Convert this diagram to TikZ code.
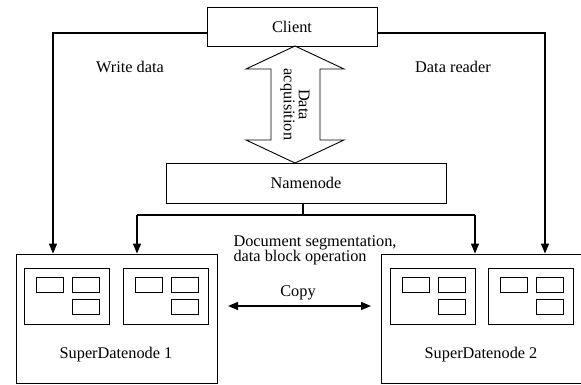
\documentclass[tikz,border=0pt]{standalone}
\usepackage{fontspec}
\setmainfont{Liberation Serif}
\usetikzlibrary{arrows.meta}
\begin{document}
\begin{tikzpicture}[x=1pt,y=-1pt,
  box/.style={draw,line width=0.9pt,inner sep=0pt},
  blk/.style={draw,line width=0.8pt},
  conn/.style={line width=1.3pt,-{Triangle[length=10pt,width=8pt]}},
  both/.style={line width=1.3pt,{Triangle[length=10pt,width=8pt]}-{Triangle[length=10pt,width=8pt]}},
  txt/.style={font=\fontsize{16.3}{15}\selectfont}]
\useasboundingbox (0,0) rectangle (581,385);
\clip (0,0) rectangle (581,385);

% main boxes
\node[box,txt,minimum width=170pt,minimum height=39pt] (client) at (292,26.5) {Client};
\node[box,txt,minimum width=280pt,minimum height=40pt] (namenode) at (306,183) {Namenode};
\node[box,minimum width=201pt,minimum height=129pt] (dn1) at (116.5,318.5) {};
\node[box,minimum width=204pt,minimum height=129pt] (dn2) at (483,318.5) {};
\node[txt] (dn1lbl) at (116,355) {SuperDatenode 1};
\node[txt] (dn2lbl) at (481,355) {SuperDatenode 2};

% storage blocks inside the datanodes
\foreach \ox in {24,123,390,488} {
  \draw[blk] (\ox,268) rectangle ++(85,56);
  \draw[blk] (\ox+12,277) rectangle ++(27,15);
  \draw[blk] (\ox+48,277) rectangle ++(27,15);
  \draw[blk] (\ox+48,299) rectangle ++(27,15);
}

% write / read paths
\coordinate (wl) at (53,33);
\coordinate (rr) at (545,33);
\draw[conn] (client.west |- wl) -- (wl) -- (wl |- dn1.north);
\draw[conn] (client.east |- rr) -- (rr) -- (rr |- dn2.north);
\node[txt] (wlbl) at (130,67) {Write data};
\node[txt] (rlbl) at (453,67) {Data reader};

% namenode to datanodes
\coordinate (nj) at (303,215);
\coordinate (nl) at (137,215);
\coordinate (nr) at (475,215);
\draw[line width=1.3pt] (nj |- namenode.south) -- (nj);
\draw[line width=1.3pt] (nl) -- (nr);
\draw[conn] (nl) -- (nl |- dn1.north);
\draw[conn] (nr) -- (nr |- dn2.north);
\node[txt,align=left,anchor=west] (seg) at (230,250.5) {Document segmentation,\\data block operation};

% data acquisition double arrow
\draw[line width=0.9pt,line join=miter]
  (295,46) -- (344,69) -- (320,69) -- (320,140) -- (344,140) -- (295,163)
  -- (246,140) -- (271,140) -- (271,69) -- (246,69) -- cycle;
\node[txt,align=center,rotate=-90] (acq) at (295,104.5) {Data\\acquisition};

% copy between datanodes
\coordinate (cl) at (228,306);
\coordinate (cr) at (371,306);
\draw[both] (cl) -- (cr);
\node[txt] (copy) at (298,293) {Copy};
\end{tikzpicture}
\end{document}
